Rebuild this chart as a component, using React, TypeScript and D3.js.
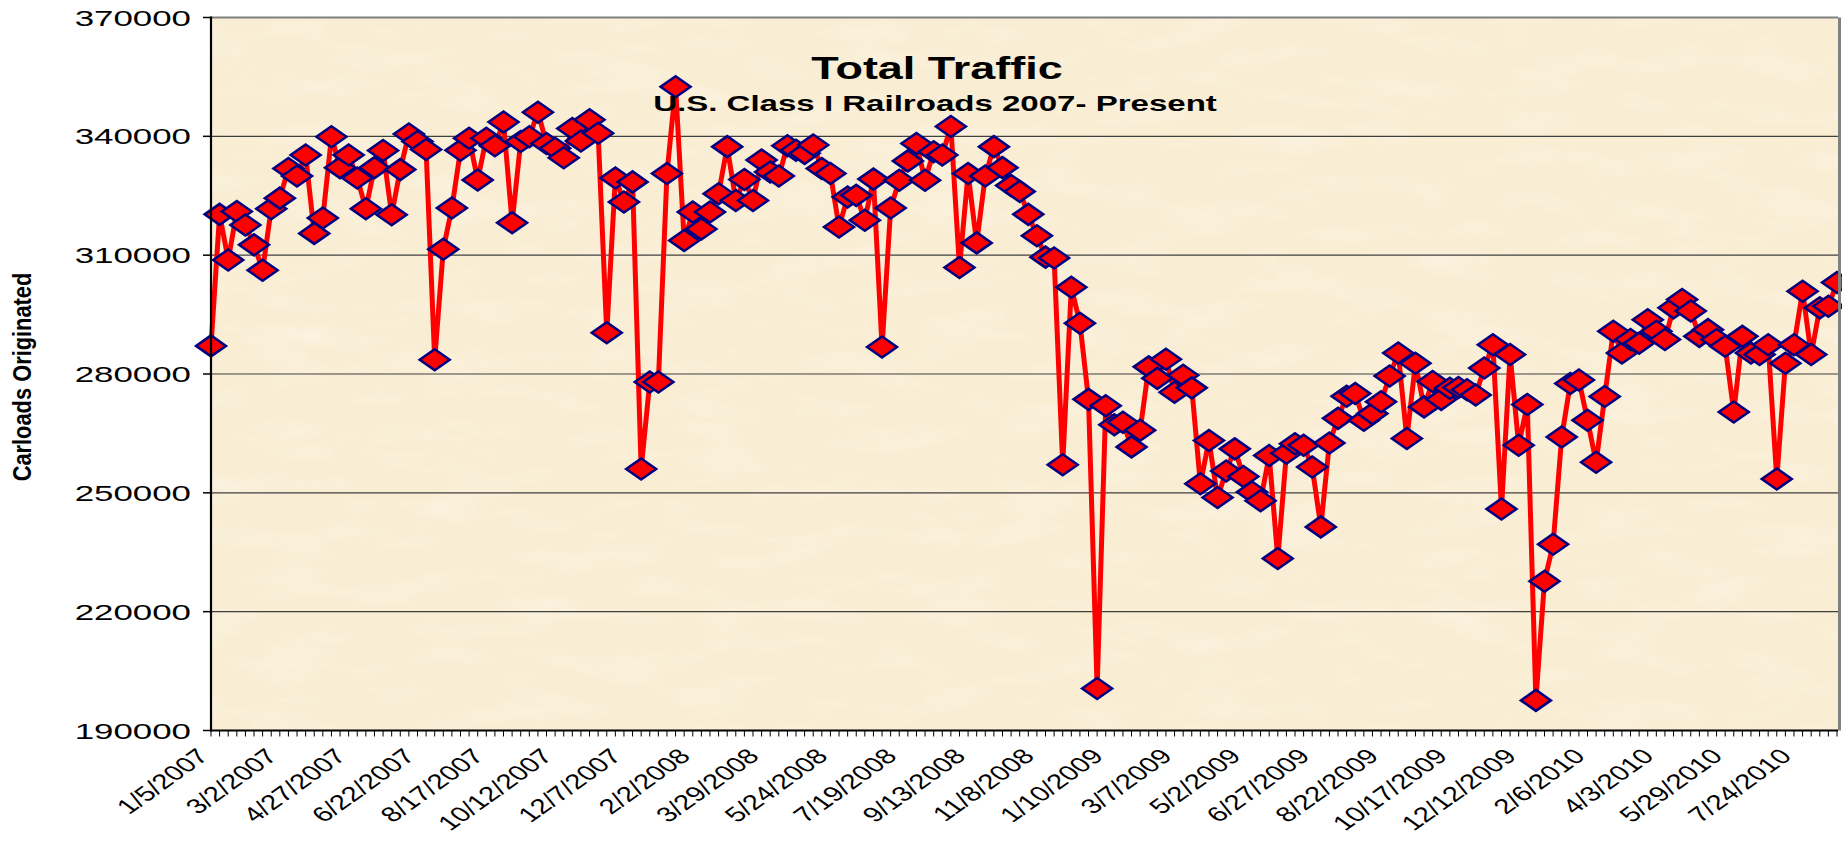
import React from 'react';
import * as d3 from 'd3';

// Weekly carloads originated, U.S. Class I railroads
const carloads: number[] = [
  287100, 320300, 308800, 321000, 317600, 312600, 306200, 321700, 324400, 331900,
  330000, 335300, 315500, 319400, 339900, 332100, 335300, 329500, 321700, 332100,
  336400, 320200, 331600, 340600, 338700, 336700, 283600, 311500, 321900, 336500,
  339500, 329000, 339500, 337600, 343600, 318200, 338700, 339900, 346100, 338200,
  337000, 334600, 342000, 338800, 344200, 340800, 290400, 329500, 323400, 328500,
  256000, 278000, 278000, 330600, 352500, 313700, 320900, 316600, 320900, 325500,
  337400, 323800, 329100, 323800, 334000, 331000, 330000, 337600, 336500, 335700,
  337800, 331900, 330600, 317100, 324700, 325100, 318800, 329200, 286800, 321900,
  328900, 333800, 338200, 328900, 336100, 335300, 342500, 306900, 330600, 313100,
  330000, 337400, 332100, 327600, 326100, 320300, 314900, 309500, 309300, 257100,
  301900, 292800, 273600, 200600, 272000, 267200, 267800, 261600, 265800, 281800,
  278900, 283700, 275400, 279700, 276500, 252300, 263200, 248800, 255500, 261100,
  254100, 250200, 248000, 259400, 233400, 260000, 262400, 262000, 256500, 241400,
  262600, 268800, 274400, 275100, 268300, 270000, 273000, 279500, 285300, 263700,
  282700, 271700, 278100, 273600, 276400, 276600, 276000, 274700, 281500, 287400,
  245900, 284900, 262000, 272300, 197600, 227700, 237000, 264100, 277600, 278500,
  268300, 257700, 274300, 290800, 285300, 288700, 287800, 293700, 290800, 288700,
  296700, 298800, 295900, 289500, 291200, 288700, 287000, 270400, 289500, 285300,
  284900, 287400, 253500, 282700, 287400, 300900, 284900, 296700, 297100, 303100,
];

// Category labels shown every 8th week
const tickLabels: string[] = [
  '1/5/2007', '3/2/2007', '4/27/2007', '6/22/2007', '8/17/2007', '10/12/2007',
  '12/7/2007', '2/2/2008', '3/29/2008', '5/24/2008', '7/19/2008', '9/13/2008',
  '11/8/2008', '1/10/2009', '3/7/2009', '5/2/2009', '6/27/2009', '8/22/2009',
  '10/17/2009', '12/12/2009', '2/6/2010', '4/3/2010', '5/29/2010', '7/24/2010',
];
const labelEvery = 8;

const yTicks: number[] = [190000, 220000, 250000, 280000, 310000, 340000, 370000];

const title = 'Total Traffic';
const subtitle = 'U.S. Class I Railroads 2007- Present';
const yTitle = 'Carloads Originated';

export default function App() {
  const W = 1842;
  const H = 845;
  const left = 211;
  const right = 1837;
  const top = 17.5;
  const bottom = 730.5;
  const sx = 1.45; // horizontal stretch of the original rendering

  const x = d3.scaleLinear().domain([0, carloads.length - 1]).range([left, right]);
  const y = d3.scaleLinear().domain([190000, 370000]).range([bottom, top]);
  const linePath = d3
    .line<number>()
    .x((_, i) => x(i))
    .y((d) => y(d))(carloads) as string;

  const font = "'Liberation Sans', Arial, Helvetica, sans-serif";
  const diamond = 'M0,-10.5L15,0L0,10.5L-15,0Z';

  return (
    <svg
      width={W}
      height={H}
      style={{ position: 'absolute', left: 0, top: 0, background: '#ffffff' }}
      fontFamily={font}
    >
      <defs>
        <filter id="paper" x="0" y="0" width="100%" height="100%">
          <feTurbulence type="fractalNoise" baseFrequency="0.012 0.04" numOctaves="3" seed="7" result="n" />
          <feColorMatrix
            in="n"
            type="matrix"
            values="0 0 0 0 1  0 0 0 0 1  0 0 0 0 0.97  0.8 0 0 0 -0.36"
          />
        </filter>
      </defs>

      {/* plot area */}
      <rect x={left} y={top} width={1838 - left} height={bottom - top} fill="#F9EDD3" />
      <rect x={left} y={top} width={1838 - left} height={bottom - top} filter="url(#paper)" opacity={0.8} />

      {/* gridlines */}
      {yTicks.map((t) => (
        <line
          key={'g' + t}
          x1={left}
          x2={1838}
          y1={y(t)}
          y2={y(t)}
          stroke={t === 370000 ? '#7f7f7f' : '#404040'}
          strokeWidth={t === 370000 ? 2 : 1.2}
        />
      ))}

      {/* y ticks + labels */}
      {yTicks.map((t) => (
        <g key={'yt' + t}>
          <line x1={203} x2={left} y1={y(t)} y2={y(t)} stroke="#000" strokeWidth={1.5} />
          <text
            transform={`translate(191,${y(t)}) scale(1.55,1)`}
            textAnchor="end"
            dy="0.36em"
            fontSize={22.5}
            fill="#000"
          >
            {t}
          </text>
        </g>
      ))}

      {/* x ticks */}
      {carloads.map((_, i) => (
        <line
          key={'xt' + i}
          x1={x(i)}
          x2={x(i)}
          y1={bottom}
          y2={bottom + 6}
          stroke="#000"
          strokeWidth={1}
        />
      ))}

      {/* x labels */}
      {tickLabels.map((lab, k) => {
        const px = x(k * labelEvery) - 1;
        const py = bottom + 27;
        return (
          <text
            key={'xl' + k}
            transform={`translate(${px},${py}) scale(1.4,1) rotate(-45)`}
            textAnchor="end"
            fontSize={21}
            fill="#000"
          >
            {lab}
          </text>
        );
      })}

      {/* series line */}
      <path d={linePath} fill="none" stroke="#FF0000" strokeWidth={5} strokeLinejoin="miter" />

      {/* markers */}
      {carloads.map((v, i) => (
        <path
          key={'m' + i}
          d={diamond}
          transform={`translate(${x(i)},${y(v)})`}
          fill="#FF0000"
          stroke="#000080"
          strokeWidth={2.5}
        />
      ))}

      {/* axes and border */}
      <line x1={left} x2={left} y1={top - 1} y2={bottom + 1} stroke="#000" strokeWidth={2.2} />
      <line x1={left - 1} x2={1838} y1={bottom} y2={bottom} stroke="#000" strokeWidth={2} />
      <line x1={1839.5} x2={1839.5} y1={top} y2={bottom} stroke="#808080" strokeWidth={3} />

      {/* titles */}
      <text
        transform={`translate(937,79) scale(1.45,1)`}
        textAnchor="middle"
        fontWeight="bold"
        fontSize={31}
        fill="#000"
      >
        {title}
      </text>
      <text
        transform={`translate(935,111) scale(${sx},1)`}
        textAnchor="middle"
        fontWeight="bold"
        fontSize={22.8}
        fill="#000"
      >
        {subtitle}
      </text>
      <text
        transform={`translate(22,377) scale(1.4,1.15) rotate(-90)`}
        textAnchor="middle"
        dy="0.35em"
        fontWeight="bold"
        fontSize={19}
        fill="#000"
      >
        {yTitle}
      </text>
    </svg>
  );
}
